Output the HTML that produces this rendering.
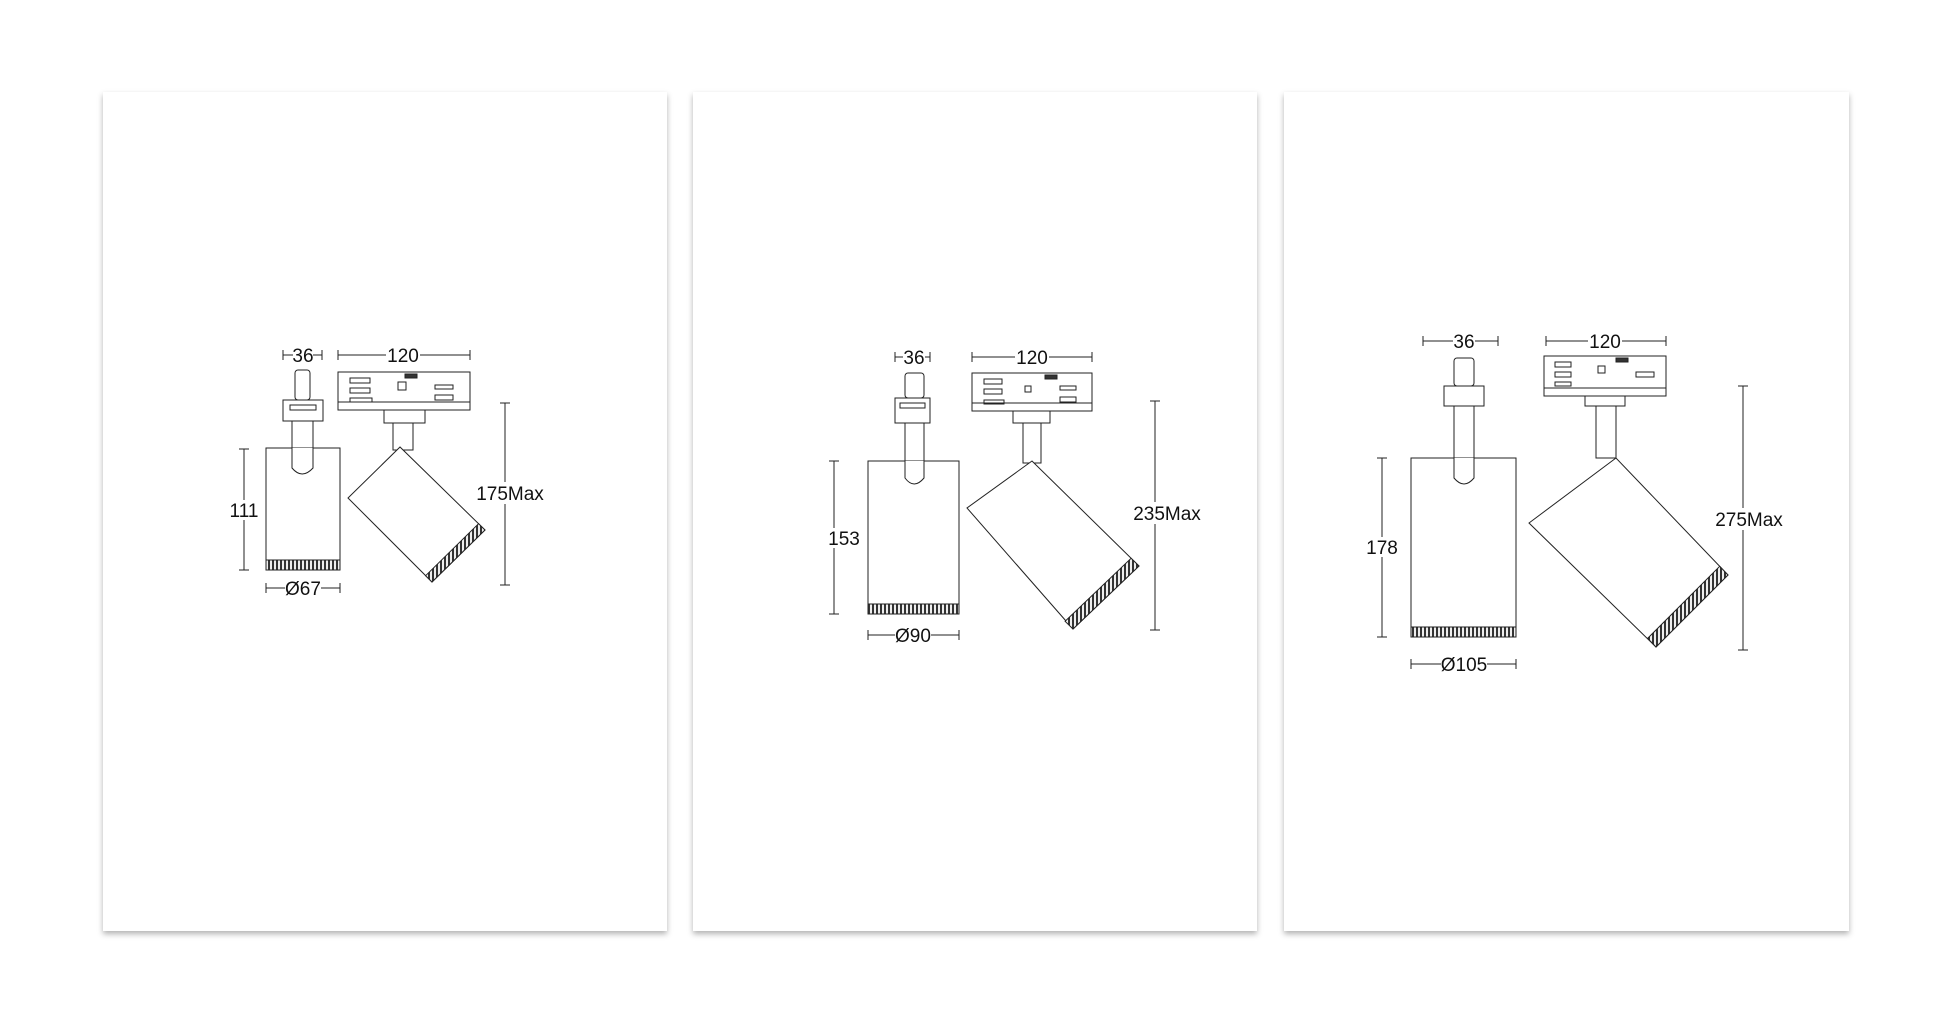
<!DOCTYPE html>
<html><head><meta charset="utf-8"><style>
html,body{margin:0;padding:0;background:#fff;width:1952px;height:1028px;overflow:hidden}
svg{display:block}
text{font-family:"Liberation Sans",sans-serif;font-size:19px;fill:#111}
</style></head><body>
<svg width="1952" height="1028" viewBox="0 0 1952 1028" xmlns="http://www.w3.org/2000/svg">
<defs>
<filter id="sh" x="-5%" y="-5%" width="110%" height="110%"><feDropShadow dx="0" dy="3" stdDeviation="3" flood-color="#000" flood-opacity="0.3"/></filter>
<pattern id="kn" width="4" height="10" patternUnits="userSpaceOnUse"><rect width="4" height="10" fill="#eee"/><rect width="2" height="10" fill="#333"/></pattern>
</defs>
<rect width="1952" height="1028" fill="#fff"/>
<rect x="103" y="92" width="564" height="839" fill="#fff" filter="url(#sh)"/>
<rect x="693" y="92" width="564" height="839" fill="#fff" filter="url(#sh)"/>
<rect x="1284" y="92" width="565" height="839" fill="#fff" filter="url(#sh)"/>

<g stroke="#222" stroke-width="1" fill="#fff">
<!-- PANEL 1 -->
<line x1="283" y1="355" x2="322" y2="355"/><line x1="283" y1="350" x2="283" y2="360"/><line x1="322" y1="350" x2="322" y2="360"/>
<line x1="338" y1="355" x2="470" y2="355"/><line x1="338" y1="350" x2="338" y2="360"/><line x1="470" y1="350" x2="470" y2="360"/>
<rect x="295" y="370" width="15" height="30" rx="3"/>
<rect x="283" y="400" width="40" height="21"/><rect x="290" y="405" width="26" height="5"/>
<rect x="292" y="421" width="21" height="29"/>
<rect x="266" y="448" width="74" height="122"/>
<path d="M292 448 V468 Q302 480 313 468 V448"/>
<rect x="266" y="560" width="74" height="10" fill="url(#kn)"/>
<line x1="244" y1="449" x2="244" y2="570"/><line x1="239" y1="449" x2="249" y2="449"/><line x1="239" y1="570" x2="249" y2="570"/>
<line x1="266" y1="588" x2="340" y2="588"/><line x1="266" y1="583" x2="266" y2="593"/><line x1="340" y1="583" x2="340" y2="593"/>
<rect x="338" y="372" width="132" height="38"/>
<rect x="350" y="378" width="20" height="5"/><rect x="350" y="388" width="20" height="5"/><rect x="350" y="398" width="22" height="4"/><rect x="398" y="382" width="8" height="8"/><rect x="435" y="385" width="18" height="4"/><rect x="435" y="395" width="18" height="5"/><rect x="405" y="374" width="12" height="4" fill="#333"/>
<line x1="338" y1="402" x2="470" y2="402"/>
<rect x="384" y="410" width="41" height="13"/>
<rect x="393" y="423" width="20" height="27"/>
<polygon points="400,447 348,498 432,582 485,530"/>
<polygon points="432,582 485,530 478.6,523.7 425.6,575.7" fill="url(#kn)"/>
<line x1="505" y1="403" x2="505" y2="585"/><line x1="500" y1="403" x2="510" y2="403"/><line x1="500" y1="585" x2="510" y2="585"/>

<!-- PANEL 2 -->
<line x1="895" y1="357" x2="930" y2="357"/><line x1="895" y1="352" x2="895" y2="362"/><line x1="930" y1="352" x2="930" y2="362"/>
<line x1="972" y1="357" x2="1092" y2="357"/><line x1="972" y1="352" x2="972" y2="362"/><line x1="1092" y1="352" x2="1092" y2="362"/>
<rect x="905" y="373" width="19" height="25" rx="3"/>
<rect x="895" y="398" width="35" height="25"/><rect x="900" y="403" width="25" height="5"/>
<rect x="905" y="423" width="19" height="40"/>
<rect x="868" y="461" width="91" height="153"/>
<path d="M905 461 V478 Q914 490 924 478 V461"/>
<rect x="868" y="604" width="91" height="10" fill="url(#kn)"/>
<line x1="834" y1="461" x2="834" y2="614"/><line x1="829" y1="461" x2="839" y2="461"/><line x1="829" y1="614" x2="839" y2="614"/>
<line x1="868" y1="635" x2="959" y2="635"/><line x1="868" y1="630" x2="868" y2="640"/><line x1="959" y1="630" x2="959" y2="640"/>
<rect x="972" y="373" width="120" height="38"/>
<rect x="984" y="379" width="18" height="5"/><rect x="984" y="389" width="18" height="5"/><rect x="984" y="400" width="20" height="4"/><rect x="1025" y="386" width="6" height="6"/><rect x="1060" y="386" width="16" height="4"/><rect x="1060" y="397" width="16" height="5"/><rect x="1045" y="375" width="12" height="4" fill="#333"/>
<line x1="972" y1="403" x2="1092" y2="403"/>
<rect x="1013" y="411" width="37" height="12"/>
<rect x="1023" y="423" width="18" height="40"/>
<polygon points="1032,461 967,508 1073,629 1139,566"/>
<polygon points="1073,629 1139,566 1131.1,558.3 1065.1,621.3" fill="url(#kn)"/>
<line x1="1155" y1="401" x2="1155" y2="630"/><line x1="1150" y1="401" x2="1160" y2="401"/><line x1="1150" y1="630" x2="1160" y2="630"/>

<!-- PANEL 3 -->
<line x1="1423" y1="341" x2="1498" y2="341"/><line x1="1423" y1="336" x2="1423" y2="346"/><line x1="1498" y1="336" x2="1498" y2="346"/>
<line x1="1546" y1="341" x2="1666" y2="341"/><line x1="1546" y1="336" x2="1546" y2="346"/><line x1="1666" y1="336" x2="1666" y2="346"/>
<rect x="1454" y="358" width="20" height="28" rx="3"/>
<rect x="1444" y="386" width="40" height="20"/>
<rect x="1454" y="406" width="20" height="52"/>
<rect x="1411" y="458" width="105" height="179"/>
<path d="M1454 458 V478 Q1464 490 1474 478 V458"/>
<rect x="1411" y="627" width="105" height="10" fill="url(#kn)"/>
<line x1="1382" y1="458" x2="1382" y2="637"/><line x1="1377" y1="458" x2="1387" y2="458"/><line x1="1377" y1="637" x2="1387" y2="637"/>
<line x1="1411" y1="664" x2="1516" y2="664"/><line x1="1411" y1="659" x2="1411" y2="669"/><line x1="1516" y1="659" x2="1516" y2="669"/>
<rect x="1544" y="356" width="122" height="40"/>
<rect x="1555" y="362" width="16" height="5"/><rect x="1555" y="372" width="16" height="5"/><rect x="1555" y="382" width="16" height="4"/><rect x="1598" y="366" width="7" height="7"/><rect x="1636" y="372" width="18" height="5"/><rect x="1616" y="358" width="12" height="4" fill="#333"/>
<line x1="1544" y1="388" x2="1666" y2="388"/>
<rect x="1585" y="396" width="40" height="10"/>
<rect x="1596" y="406" width="20" height="52"/>
<polygon points="1616,458 1529,523 1656,647 1728,575"/>
<polygon points="1656,647 1728,575 1719.7,566.3 1647.7,638.3" fill="url(#kn)"/>
<line x1="1743" y1="386" x2="1743" y2="650"/><line x1="1738" y1="386" x2="1748" y2="386"/><line x1="1738" y1="650" x2="1748" y2="650"/>
</g>

<g text-anchor="middle">
<rect x="293" y="344" width="20" height="20" fill="#fff"/><text x="303" y="362">36</text>
<rect x="386" y="344" width="34" height="20" fill="#fff"/><text x="403" y="362">120</text>
<rect x="230" y="500" width="28" height="20" fill="#fff"/><text x="244" y="517">111</text>
<rect x="285" y="578" width="36" height="20" fill="#fff"/><text x="303" y="595">Ø67</text>
<rect x="477" y="482" width="66" height="22" fill="#fff"/><text x="510" y="500">175Max</text>

<rect x="903" y="346" width="22" height="20" fill="#fff"/><text x="914" y="364">36</text>
<rect x="1015" y="346" width="34" height="20" fill="#fff"/><text x="1032" y="364">120</text>
<rect x="829" y="528" width="30" height="20" fill="#fff"/><text x="844" y="545">153</text>
<rect x="895" y="625" width="36" height="20" fill="#fff"/><text x="913" y="642">Ø90</text>
<rect x="1134" y="502" width="66" height="22" fill="#fff"/><text x="1167" y="520">235Max</text>

<rect x="1453" y="330" width="22" height="20" fill="#fff"/><text x="1464" y="348">36</text>
<rect x="1588" y="330" width="34" height="20" fill="#fff"/><text x="1605" y="348">120</text>
<rect x="1367" y="537" width="30" height="20" fill="#fff"/><text x="1382" y="554">178</text>
<rect x="1441" y="654" width="46" height="20" fill="#fff"/><text x="1464" y="671">Ø105</text>
<rect x="1716" y="508" width="66" height="22" fill="#fff"/><text x="1749" y="526">275Max</text>
</g>
</svg>
</body></html>
